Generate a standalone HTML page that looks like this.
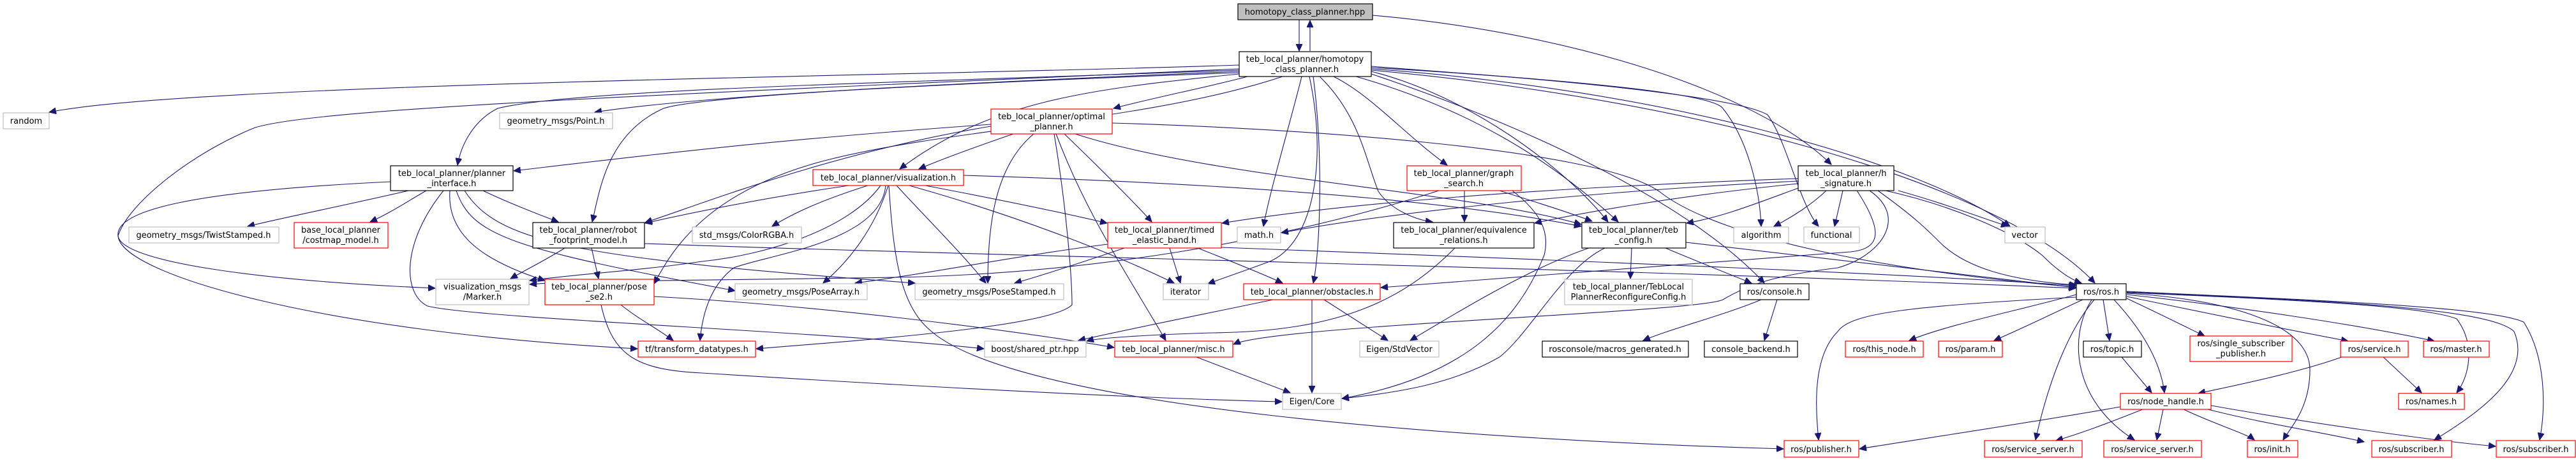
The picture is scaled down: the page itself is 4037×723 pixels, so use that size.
<!DOCTYPE html>
<html><head><meta charset="utf-8"><style>
html,body{margin:0;padding:0;background:#fff;width:4037px;height:723px;overflow:hidden}
svg{display:block}
text{font-family:"DejaVu Sans","Liberation Sans",sans-serif;font-size:13px;fill:#000;text-anchor:middle}
.e{fill:none;stroke:#191970;stroke-width:1.1}
.b{fill:#fff;stroke:#000;stroke-width:1.2}
.g{fill:#fff;stroke:#bfbfbf;stroke-width:1.2}
.r{fill:#fff;stroke:#ff0000;stroke-width:1.2}
</style></head><body>
<svg width="4037" height="723" viewBox="0 0 4037 723" xmlns="http://www.w3.org/2000/svg">
<defs><marker id="a" markerUnits="userSpaceOnUse" markerWidth="12" markerHeight="10" refX="11" refY="5" orient="auto"><path d="M0,0 L11,5 L0,10 z" fill="#191970" stroke="#191970"/></marker></defs>
<g class="e" marker-end="url(#a)">
<path d="M2036,31 L2036,80"/>
<path d="M2053,80 L2053,32"/>
<path d="M2151,24 C2450,50 2750,140 2870,258"/>
<path d="M1942,102 C1500,118 300,130 77,176"/>
<path d="M612,285 C300,300 180,330 185,370 C190,410 400,440 682,452"/>
<path d="M1942,108 C1000,150 500,170 400,200 C300,240 200,320 185,370 C190,430 500,520 999,547"/>
<path d="M1942,110 C1400,130 900,140 780,170 C740,190 722,230 717,259"/>
<path d="M1942,112 C1500,130 1100,150 932,176"/>
<path d="M1942,114 C1500,130 1100,150 1040,170 C950,210 940,300 928,348"/>
<path d="M1942,116 C1700,140 1550,160 1410,265"/>
<path d="M1955,120 C1900,135 1800,155 1745,170"/>
<path d="M2040,120 C2020,200 1990,300 1980,355"/>
<path d="M2058,120 C2075,250 2068,400 2058,444"/>
<path d="M2052,120 C2080,250 2060,380 1990,410 C1950,425 1920,435 1893,445"/>
<path d="M2068,120 C2130,180 2140,250 2160,300 C2180,330 2220,345 2245,348"/>
<path d="M2090,120 C2150,150 2200,210 2268,259"/>
<path d="M2125,120 C2300,170 2430,250 2536,348"/>
<path d="M2149,112 C2300,150 2450,260 2520,348"/>
<path d="M2149,104 C2350,120 2680,140 2700,170 C2740,220 2758,300 2760,355"/>
<path d="M2149,106 C2400,120 2720,150 2770,180 C2800,220 2820,320 2850,355"/>
<path d="M2149,108 C2600,140 3000,250 3150,355"/>
<path d="M2149,110 C2700,160 3150,300 3283,444"/>
<path d="M2149,116 C2400,200 2650,320 2765,444"/>
<path d="M2010,120 C1800,190 1500,200 1300,250 C1100,300 1050,400 1025,445"/>
<path d="M640,299 C550,320 450,340 388,355"/>
<path d="M668,299 C640,315 610,335 580,348"/>
<path d="M757,299 C790,315 840,335 875,348"/>
<path d="M705,299 C700,370 760,410 854,440"/>
<path d="M715,299 C740,370 800,390 1152,456"/>
<path d="M728,299 C780,380 900,405 1434,444"/>
<path d="M695,299 C630,380 630,460 670,480 C750,500 1300,520 1542,547"/>
<path d="M885,389 C860,405 830,420 800,437"/>
<path d="M927,389 L938,437"/>
<path d="M1010,382 C1500,400 2500,420 3253,452"/>
<path d="M1360,291 C1300,310 1250,330 1210,355"/>
<path d="M1330,291 C1200,310 1100,330 1011,350"/>
<path d="M1392,291 C1370,360 1330,410 1290,444"/>
<path d="M1405,291 C1450,340 1510,400 1545,444"/>
<path d="M1380,291 C1330,360 1200,400 1100,410 C1000,425 900,430 830,440"/>
<path d="M1388,291 C1380,380 1200,400 1150,420 C1110,450 1100,500 1097,534"/>
<path d="M1425,291 C1600,340 1750,400 1840,444"/>
<path d="M1450,291 C1550,310 1650,330 1735,350"/>
<path d="M1393,291 C1400,400 1410,480 1460,520 C1600,640 2300,690 2795,704"/>
<path d="M1510,275 C2000,290 2300,320 2478,355"/>
<path d="M1588,210 C1530,230 1480,248 1440,265"/>
<path d="M1553,195 C1200,220 1000,245 805,268"/>
<path d="M1553,198 C1300,240 1100,320 1011,349"/>
<path d="M1620,210 C1560,260 1548,350 1548,444"/>
<path d="M1652,210 C1672,330 1680,440 1680,478 C1650,510 1400,530 1185,547"/>
<path d="M1655,210 C1700,330 1760,420 1827,534"/>
<path d="M1668,210 C1720,260 1780,320 1805,348"/>
<path d="M1685,210 C1900,280 2300,300 2478,352"/>
<path d="M1743,193 C2000,200 2500,230 2600,300 C2700,380 3000,430 3253,450"/>
<path d="M1833,389 L1850,444"/>
<path d="M1877,389 C1930,410 1980,430 2010,444"/>
<path d="M1762,389 C1700,410 1640,430 1590,444"/>
<path d="M1736,383 C1600,400 1450,430 1340,444"/>
<path d="M1914,388 C2500,410 3000,430 3253,448"/>
<path d="M2295,299 L2295,348"/>
<path d="M2350,299 C2400,315 2450,330 2495,347"/>
<path d="M2370,299 C2410,330 2430,360 2420,400 C2380,500 2300,590 2103,625"/>
<path d="M2255,299 C2000,380 1700,430 1400,435 C1100,440 900,440 830,446"/>
<path d="M2280,389 C2200,470 2100,520 1900,522 C1800,525 1720,530 1703,535"/>
<path d="M2056,470 L2056,616"/>
<path d="M2075,470 L2175,534"/>
<path d="M1995,470 C1900,490 1750,520 1690,534"/>
<path d="M2557,389 L2555,437"/>
<path d="M2610,389 C2660,410 2710,430 2745,444"/>
<path d="M2515,389 C2450,420 2400,520 2350,560 C2280,600 2200,615 2103,625"/>
<path d="M2490,389 C2400,420 2300,480 2210,534"/>
<path d="M2642,380 C2900,410 3150,440 3253,451"/>
<path d="M2862,299 C2840,320 2810,340 2780,355"/>
<path d="M2888,299 L2875,355"/>
<path d="M2818,295 C2750,320 2700,340 2643,350"/>
<path d="M2818,288 C2600,310 2450,340 2405,350"/>
<path d="M2818,284 C2500,300 2200,330 2008,365"/>
<path d="M2818,280 C2400,295 2100,320 1915,350"/>
<path d="M2910,299 C2950,360 2950,390 2900,395 C2700,410 2300,440 2164,451"/>
<path d="M2930,299 C2990,340 2950,400 2880,420 C2800,430 2750,440 2700,470 C2660,490 2000,510 1933,540"/>
<path d="M2955,299 C3050,320 3150,360 3200,400 C3230,430 3250,440 3262,444"/>
<path d="M2975,299 C3050,320 3100,340 3147,355"/>
<path d="M2943,299 C3000,340 3020,360 3040,380 C3080,420 3150,440 3254,447"/>
<path d="M2760,470 C2700,495 2620,515 2575,534"/>
<path d="M2785,470 L2765,534"/>
<path d="M3254,462 C3150,490 3050,510 2992,534"/>
<path d="M3264,470 C3220,490 3170,515 3125,534"/>
<path d="M3282,470 C3240,520 3210,600 3190,690"/>
<path d="M3278,470 C3240,530 3250,630 3345,690"/>
<path d="M3296,470 L3306,534"/>
<path d="M3313,470 C3350,510 3385,560 3392,616"/>
<path d="M3333,468 C3380,490 3420,510 3455,527"/>
<path d="M3333,465 C3500,500 3600,520 3680,535"/>
<path d="M3333,462 C3500,480 3700,510 3815,535"/>
<path d="M3333,460 C3500,470 3620,510 3620,580 C3620,640 3590,670 3578,690"/>
<path d="M3333,459 C3600,470 3800,480 3850,500 C3880,540 3870,590 3850,616"/>
<path d="M3333,458 C3600,470 3900,480 3940,520 C3970,590 3880,650 3815,690"/>
<path d="M3333,457 C3600,470 3900,480 3955,505 C3990,560 3990,640 3980,690"/>
<path d="M3254,466 C3000,480 2900,490 2880,520 C2840,560 2845,640 2850,690"/>
<path d="M3325,560 L3372,616"/>
<path d="M3670,560 C3600,585 3500,605 3445,617"/>
<path d="M3735,560 L3795,616"/>
<path d="M3323,638 C3200,660 3000,690 2914,704"/>
<path d="M3358,642 C3300,665 3260,680 3222,691"/>
<path d="M3390,642 L3380,690"/>
<path d="M3422,642 C3470,665 3520,680 3533,690"/>
<path d="M3460,642 C3550,665 3650,680 3705,693"/>
<path d="M3465,636 C3600,660 3800,690 3911,700"/>
<path d="M942,478 C960,560 1000,580 1100,585 C1500,610 1800,625 2009,630"/>
<path d="M973,478 C1000,500 1030,515 1055,534"/>
<path d="M1025,465 C1300,480 1600,520 1746,545"/>
<path d="M1875,560 L2022,616"/>
</g>
<g>
<rect class="b" x="1940" y="6" width="211" height="25" style="fill:#bfbfbf"/><text x="2045" y="23">homotopy_class_planner.hpp</text>
<rect class="b" x="1942" y="81" width="207" height="39"/><text x="2045" y="97">teb_local_planner/homotopy</text><text x="2045" y="113">_class_planner.h</text>
<rect class="g" x="5" y="177" width="72" height="25"/><text x="41" y="194">random</text>
<rect class="g" x="783" y="177" width="177" height="25"/><text x="871" y="194">geometry_msgs/Point.h</text>
<rect class="r" x="1553" y="171" width="190" height="39"/><text x="1648" y="187">teb_local_planner/optimal</text><text x="1648" y="203">_planner.h</text>
<rect class="b" x="612" y="260" width="192" height="39"/><text x="708" y="276">teb_local_planner/planner</text><text x="708" y="292">_interface.h</text>
<rect class="r" x="1274" y="266" width="236" height="25"/><text x="1392" y="283">teb_local_planner/visualization.h</text>
<rect class="r" x="2205" y="260" width="179" height="39"/><text x="2294" y="276">teb_local_planner/graph</text><text x="2294" y="292">_search.h</text>
<rect class="b" x="2818" y="260" width="150" height="39"/><text x="2893" y="276">teb_local_planner/h</text><text x="2893" y="292">_signature.h</text>
<rect class="g" x="202" y="356" width="235" height="25"/><text x="319" y="373">geometry_msgs/TwistStamped.h</text>
<rect class="r" x="461" y="349" width="147" height="40"/><text x="534" y="365">base_local_planner</text><text x="534" y="381">/costmap_model.h</text>
<rect class="b" x="835" y="349" width="175" height="40"/><text x="922" y="365">teb_local_planner/robot</text><text x="922" y="381">_footprint_model.h</text>
<rect class="g" x="1085" y="356" width="171" height="25"/><text x="1170" y="373">std_msgs/ColorRGBA.h</text>
<rect class="r" x="1736" y="349" width="178" height="40"/><text x="1825" y="365">teb_local_planner/timed</text><text x="1825" y="381">_elastic_band.h</text>
<rect class="g" x="1939" y="356" width="68" height="25"/><text x="1973" y="373">math.h</text>
<rect class="b" x="2184" y="349" width="220" height="40"/><text x="2294" y="365">teb_local_planner/equivalence</text><text x="2294" y="381">_relations.h</text>
<rect class="b" x="2479" y="349" width="163" height="40"/><text x="2560" y="365">teb_local_planner/teb</text><text x="2560" y="381">_config.h</text>
<rect class="g" x="2717" y="356" width="86" height="25"/><text x="2760" y="373">algorithm</text>
<rect class="g" x="2827" y="356" width="87" height="25"/><text x="2870" y="373">functional</text>
<rect class="g" x="3142" y="356" width="63" height="25"/><text x="3173" y="373">vector</text>
<rect class="g" x="683" y="438" width="146" height="40"/><text x="756" y="454">visualization_msgs</text><text x="756" y="470">/Marker.h</text>
<rect class="r" x="854" y="438" width="171" height="40"/><text x="939" y="454">teb_local_planner/pose</text><text x="939" y="470">_se2.h</text>
<rect class="g" x="1152" y="445" width="207" height="25"/><text x="1255" y="462">geometry_msgs/PoseArray.h</text>
<rect class="g" x="1434" y="445" width="233" height="25"/><text x="1550" y="462">geometry_msgs/PoseStamped.h</text>
<rect class="g" x="1823" y="445" width="71" height="25"/><text x="1858" y="462">iterator</text>
<rect class="r" x="1949" y="445" width="214" height="25"/><text x="2056" y="462">teb_local_planner/obstacles.h</text>
<rect class="g" x="2452" y="438" width="200" height="40"/><text x="2552" y="454">teb_local_planner/TebLocal</text><text x="2552" y="470">PlannerReconfigureConfig.h</text>
<rect class="b" x="2727" y="445" width="108" height="25"/><text x="2781" y="462">ros/console.h</text>
<rect class="b" x="3254" y="445" width="78" height="25"/><text x="3293" y="462">ros/ros.h</text>
<rect class="r" x="1000" y="535" width="184" height="25"/><text x="1092" y="552">tf/transform_datatypes.h</text>
<rect class="g" x="1543" y="535" width="159" height="25"/><text x="1622" y="552">boost/shared_ptr.hpp</text>
<rect class="r" x="1747" y="535" width="185" height="25"/><text x="1839" y="552">teb_local_planner/misc.h</text>
<rect class="g" x="2131" y="535" width="124" height="25"/><text x="2193" y="552">Eigen/StdVector</text>
<rect class="b" x="2417" y="535" width="229" height="25"/><text x="2531" y="552">rosconsole/macros_generated.h</text>
<rect class="b" x="2671" y="535" width="146" height="25"/><text x="2744" y="552">console_backend.h</text>
<rect class="r" x="2892" y="535" width="122" height="25"/><text x="2953" y="552">ros/this_node.h</text>
<rect class="r" x="3038" y="535" width="100" height="25"/><text x="3088" y="552">ros/param.h</text>
<rect class="b" x="3265" y="535" width="91" height="25"/><text x="3310" y="552">ros/topic.h</text>
<rect class="r" x="3432" y="527" width="160" height="40"/><text x="3512" y="543">ros/single_subscriber</text><text x="3512" y="559">_publisher.h</text>
<rect class="r" x="3668" y="535" width="106" height="25"/><text x="3721" y="552">ros/service.h</text>
<rect class="r" x="3798" y="535" width="103" height="25"/><text x="3849" y="552">ros/master.h</text>
<rect class="g" x="2010" y="617" width="92" height="25"/><text x="2056" y="634">Eigen/Core</text>
<rect class="r" x="3323" y="617" width="142" height="25"/><text x="3394" y="634">ros/node_handle.h</text>
<rect class="r" x="3759" y="617" width="103" height="25"/><text x="3810" y="634">ros/names.h</text>
<rect class="r" x="2796" y="691" width="117" height="26"/><text x="2854" y="709">ros/publisher.h</text>
<rect class="r" x="3110" y="691" width="153" height="26"/><text x="3186" y="709">ros/service_server.h</text>
<rect class="r" x="3297" y="691" width="153" height="26"/><text x="3373" y="709">ros/service_server.h</text>
<rect class="r" x="3522" y="691" width="79" height="26"/><text x="3561" y="709">ros/init.h</text>
<rect class="r" x="3717" y="691" width="125" height="26"/><text x="3779" y="709">ros/subscriber.h</text>
<rect class="r" x="3912" y="691" width="124" height="26"/><text x="3974" y="709">ros/subscriber.h</text>
</g>
</svg>
</body></html>
